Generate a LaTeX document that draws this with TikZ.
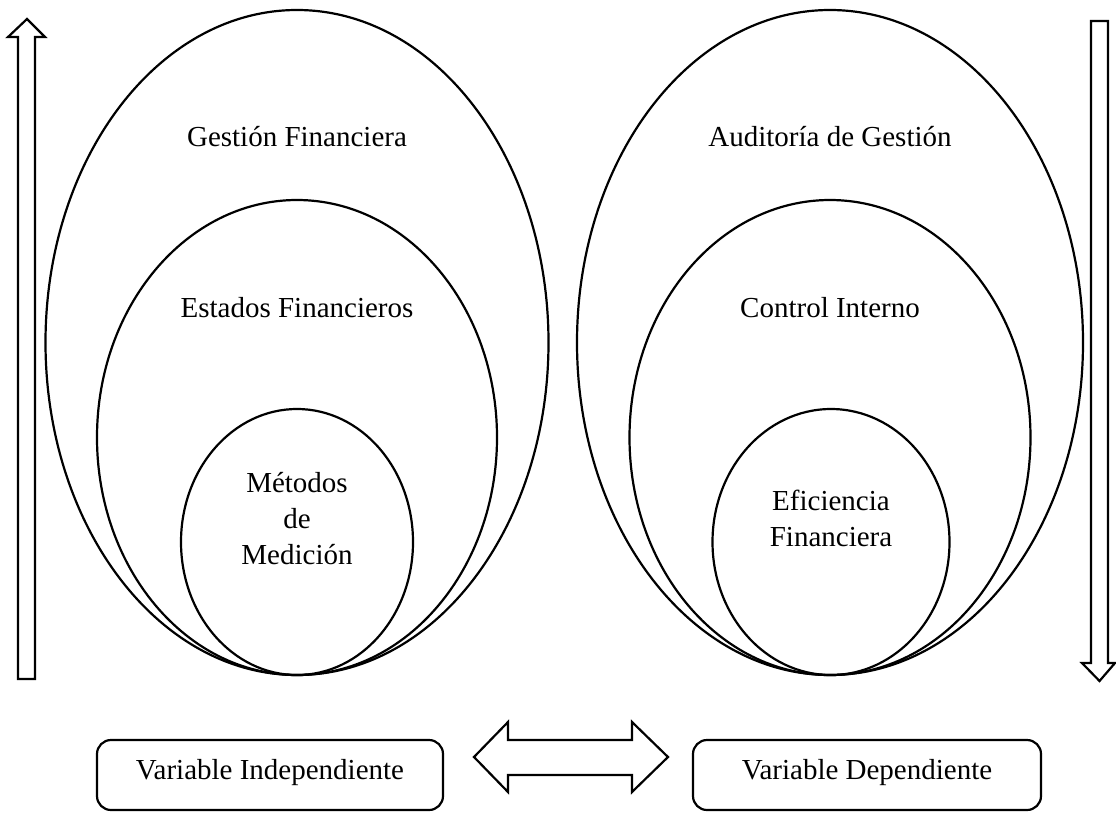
\documentclass[tikz,border=0pt]{standalone}
\usepackage{fontspec}
\setmainfont{Liberation Serif}
\usetikzlibrary{shapes.geometric}
\tikzset{
  ring/.style={draw, ellipse, line width=2.2pt, inner sep=0pt},
  label/.style={font=\fontsize{29}{36}\selectfont, align=center, inner sep=0pt},
  varbox/.style={draw, rounded corners=14pt, line width=2.2pt, inner sep=0pt},
  hollow/.style={draw, line width=2.2pt, line join=miter, fill=white}
}
\begin{document}
\begin{tikzpicture}[x=1pt,y=-1pt]
\useasboundingbox (0,0) rectangle (1116,812);

% left family of nested ellipses, all touching at the bottom
\node[ring, minimum width=503pt, minimum height=665pt] (gf) at (297,342.5) {};
\node[ring, minimum width=400pt, minimum height=475pt] (ef) at (297,437.5) {};
\node[ring, minimum width=232pt, minimum height=266pt] (mm) at (297,542) {};
\node[label] (tgf) at (297,137) {Gestión Financiera};
\node[label] (tef) at (297,308) {Estados Financieros};
\node[label] (tmm) at (297,519) {Métodos\\de\\Medición};

% right family of nested ellipses
\node[ring, minimum width=506pt, minimum height=665pt] (ag) at (830,342.5) {};
\node[ring, minimum width=401pt, minimum height=475pt] (ci) at (830,437.5) {};
\node[ring, minimum width=237pt, minimum height=266pt] (fe) at (831,542) {};
\node[label] (tag) at (830,137) {Auditoría de Gestión};
\node[label] (tci) at (830,308) {Control Interno};
\node[label] (tfe) at (831,518) {Eficiencia\\Financiera};

% vertical hollow arrows at the sides
\draw[hollow] (18,679) -- (18,37) -- (8,37) -- (27,19) -- (45,37) -- (35,37) -- (35,679) -- cycle;
\draw[hollow] (1091,21) -- (1091,663) -- (1082,663) -- (1099.5,681) -- (1115,663) -- (1108,663) -- (1108,21) -- cycle;

% variable boxes
\node[varbox, minimum width=346pt, minimum height=70pt] (vi) at (270,775) {};
\node[label] (tvi) at (270,773) {Variable Independiente};
\node[varbox, minimum width=348pt, minimum height=70pt] (vd) at (867,775) {};
\node[label] (tvd) at (867,773) {Variable Dependiente};

% two-headed hollow arrow between the boxes
\draw[hollow] (474,757) -- (508,722) -- (508,740) -- (632,740) -- (632,722)
  -- (668,757) -- (632,792) -- (632,775) -- (508,775) -- (508,792) -- cycle;
\end{tikzpicture}
\end{document}
